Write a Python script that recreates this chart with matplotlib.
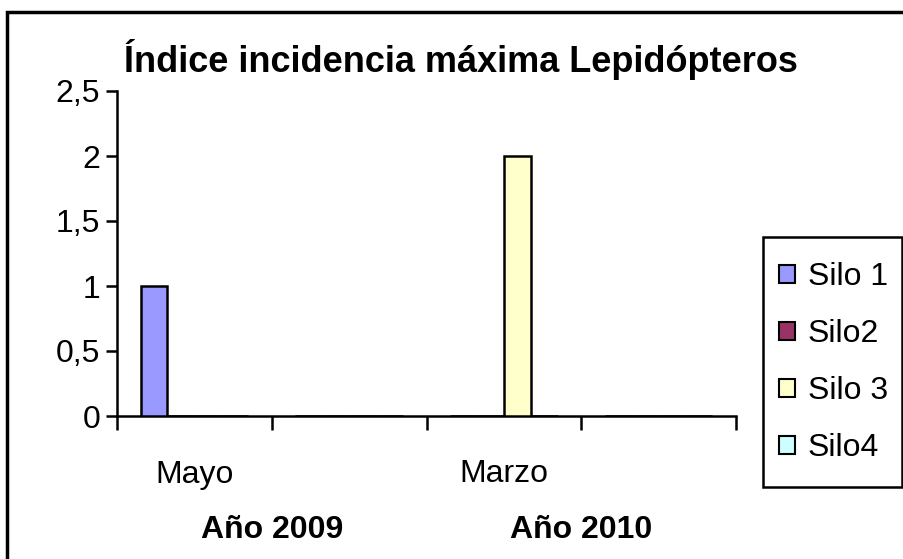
import numpy as np
import matplotlib
matplotlib.use('Agg')
import matplotlib.pyplot as plt
from matplotlib.patches import Rectangle, Patch

plt.rcParams['font.family'] = ['Liberation Sans', 'DejaVu Sans']

# data
months = ['Mayo', '', 'Marzo', '']
years = ['Año 2009', 'Año 2010']
series = ['Silo 1', 'Silo2', 'Silo 3', 'Silo4']
silo1 = [1, 0, 0, 0]
silo2 = [0, 0, 0, 0]
silo3 = [0, 0, 2, 0]
silo4 = [0, 0, 0, 0]
colors = ['#9999FF', '#993366', '#FFFFCC', '#CCFFFF']

fig = plt.figure(figsize=(9.04, 5.59), dpi=100)
ax = fig.add_axes([117/904, 1 - 416/559, (736 - 117)/904, (416 - 91)/559])

x = np.arange(len(months))
w = 0.174
values = [silo1, silo2, silo3, silo4]
for i, (vals, c) in enumerate(zip(values, colors)):
    ax.bar(x + (i - 1.5) * w, vals, width=w, color=c, edgecolor='black', linewidth=1.8, zorder=3)

ax.set_xlim(-0.5, len(months) - 0.5)
ax.set_ylim(0, 2.5)
ax.set_yticks([0, 0.5, 1, 1.5, 2, 2.5])
ax.set_yticklabels(['0', '0,5', '1', '1,5', '2', '2,5'], fontsize=23)
ax.set_xticks(np.arange(-0.5, len(months), 1))
ax.set_xticklabels([])
ax.tick_params(axis='y', direction='out', length=8, width=1.8, pad=4)
ax.tick_params(axis='x', direction='out', length=10, width=1.8)
for s in ['top', 'right']:
    ax.spines[s].set_visible(False)
for s in ['left', 'bottom']:
    ax.spines[s].set_linewidth(1.8)

tr = ax.get_xaxis_transform()
for i, m in enumerate(months):
    if m:
        ax.text(i, -0.18, m, transform=tr, ha='center', va='center', fontsize=23)
for j, yr in enumerate(years):
    ax.text(2 * j + 0.5, -0.35, yr, transform=tr, ha='center', va='center',
            fontsize=23, fontweight='bold')

fig.text(461/904, 1 - 60/559, 'Índice incidencia máxima Lepidópteros',
         ha='center', va='center', fontsize=26, fontweight='bold')

handles = [Patch(facecolor=c, edgecolor='black', linewidth=1.5) for c in colors]
leg = fig.legend(handles, series, loc='upper left', bbox_to_anchor=(763/904, 1 - 246/559),
                 fontsize=23, frameon=False, handlelength=0.5,
                 handleheight=0.5, handletextpad=0.4, labelspacing=0.85,
                 borderpad=0.5, borderaxespad=0)
# legend frame drawn by hand so it sits where the reference box is
fig.add_artist(Rectangle((763/904, 1 - 487/559), (902 - 763)/904, (487 - 237)/559,
                         transform=fig.transFigure, fill=False, edgecolor='black', linewidth=1.8))

# outer chart border (cut off on the right and bottom)
fig.add_artist(Rectangle((7/904, -0.1), 1.2, 1 - 12/559 + 0.1, transform=fig.transFigure,
                         fill=False, edgecolor='black', linewidth=2.5))

fig.savefig('out.png', dpi=100)
